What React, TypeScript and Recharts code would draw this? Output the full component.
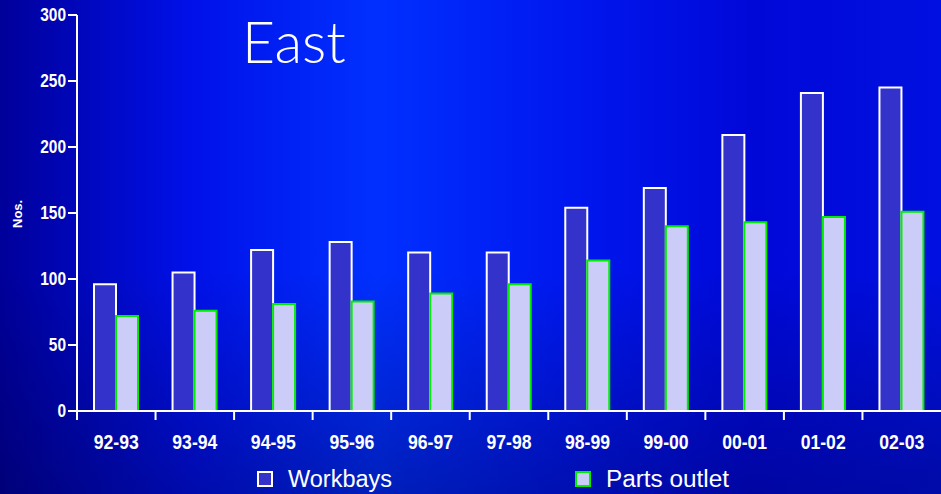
import React from 'react'
import { BarChart, Bar, XAxis, YAxis } from 'recharts'

const years = ['92-93', '93-94', '94-95', '95-96', '96-97', '97-98', '98-99', '99-00', '00-01', '01-02', '02-03']
const workbays = [96, 105, 122, 128, 120, 120, 154, 169, 209, 241, 245]
const partsOutlet = [72, 76, 81, 83, 89, 96, 114, 140, 143, 147, 151]
const yTicks = [0, 50, 100, 150, 200, 250, 300]

const data = years.map((y, i) => ({ year: y, workbays: workbays[i], parts: partsOutlet[i] }))

const BAND = 864 / years.length

function XTick(props: any) {
  const { x, y, payload } = props
  return (
    <g>
      <line x1={x - BAND / 2} y1={y - 8} x2={x - BAND / 2} y2={y + 1} stroke="#fff" strokeWidth={2} />
      <text x={x} y={y + 30} textAnchor="middle" fill="#fff" fontSize={21} fontWeight="bold"
        textLength={45} lengthAdjust="spacingAndGlyphs"
        fontFamily="'Liberation Sans', Arial, sans-serif">
        {payload.value}
      </text>
    </g>
  )
}

function YTick(props: any) {
  const { x, y, payload } = props
  return (
    <text x={x} y={y + 6} textAnchor="end" fill="#fff" fontSize={18} fontWeight="bold"
      textLength={String(payload.value).length * 8.6} lengthAdjust="spacingAndGlyphs"
      fontFamily="'Liberation Sans', Arial, sans-serif">
      {payload.value}
    </text>
  )
}

function LegendBox() {
  const items = [
    { label: 'Workbays', fill: '#3333cc', stroke: '#ffffff', x: 258, tx: 288, w: 104 },
    { label: 'Parts outlet', fill: '#ccccf8', stroke: '#00ee00', x: 576, tx: 606, w: 123 },
  ]
  return (
    <svg width={941} height={30} style={{ position: 'absolute', left: 0, top: 464 }}>
      {items.map((it) => (
        <g key={it.label}>
          <rect x={it.x} y={8} width={14} height={14} fill={it.fill} stroke={it.stroke} strokeWidth={2} />
          <text x={it.tx} y={23} fill="#fff" fontSize={23} textLength={it.w} lengthAdjust="spacingAndGlyphs"
            fontFamily="'Liberation Sans', Arial, sans-serif">
            {it.label}
          </text>
        </g>
      ))}
    </svg>
  )
}

export default function App() {
  return (
    <div
      style={{
        position: 'absolute',
        left: 0,
        top: 0,
        width: 941,
        height: 494,
        overflow: 'hidden',
        background:
          'linear-gradient(180deg, rgba(0,0,0,0) 0%, rgba(0,0,0,0) 55%, rgba(0,0,60,0.35) 100%), linear-gradient(90deg, #00009a 0%, #0010e8 20%, #0030ff 40%, #0018f0 60%, #0008d8 80%, #0010e0 100%)',
        fontFamily: "'Liberation Sans', Arial, sans-serif",
      }}
    >
      <div style={{ position: 'absolute', left: 242, top: 7, color: '#fff', fontSize: 57, fontFamily: 'Lato, sans-serif', fontWeight: 300 }}>
        East
      </div>
      <div
        style={{
          position: 'absolute',
          left: 10,
          top: 228,
          color: '#fff',
          fontSize: 13,
          fontWeight: 'bold',
          transform: 'rotate(-90deg)',
          transformOrigin: 'left top',
        }}
      >
        Nos.
      </div>
      <BarChart
        width={941}
        height={494}
        data={data}
        margin={{ top: 15, right: 0, left: 17, bottom: 0 }}
        barGap={0}
        barSize={22}
        style={{ position: 'absolute', left: 0, top: 0 }}
      >
        <XAxis
          dataKey="year"
          stroke="#fff"
          strokeWidth={2}
          tickLine={false}
          tick={<XTick />}
          height={83}
          interval={0}
        />
        <YAxis
          domain={[0, 300]}
          ticks={yTicks}
          width={60}
          stroke="#fff"
          strokeWidth={2}
          tickSize={9}
          tickMargin={2}
          tick={<YTick />}
          interval={0}
        />
        <Bar dataKey="workbays" name="Workbays" fill="#3333cc" stroke="#ffffff" strokeWidth={2} isAnimationActive={false} />
        <Bar dataKey="parts" name="Parts outlet" fill="#ccccf8" stroke="#00ee00" strokeWidth={2} isAnimationActive={false} />
      </BarChart>
      <LegendBox />
    </div>
  )
}
